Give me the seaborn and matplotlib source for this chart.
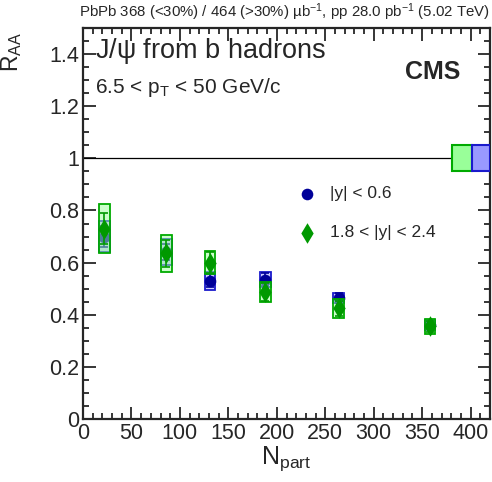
#!/usr/bin/env python3

import matplotlib
matplotlib.use("Agg")
import pandas as pd
import seaborn as sns
from matplotlib import pyplot as plt
from matplotlib.patches import Rectangle
from matplotlib.ticker import MultipleLocator

# values
npart = [22, 86, 131, 188, 264, 358]

raa_mid = [0.70, 0.64, 0.53, 0.535, 0.465, 0.36]
stat_mid = [0.04, 0.03, 0.025, 0.025, 0.02, 0.015]
syst_mid = [0.06, 0.05, 0.035, 0.03, 0.02, 0.02]

raa_fwd = [0.73, 0.635, 0.60, 0.487, 0.424, 0.355]
stat_fwd = [0.06, 0.05, 0.04, 0.035, 0.03, 0.02]
syst_fwd = [0.095, 0.07, 0.045, 0.04, 0.038, 0.03]

glob_fwd = 0.05
glob_mid = 0.05

labels = ["|y| < 0.6", "1.8 < |y| < 2.4"]

BLUE = "#000099"
BLUE_EDGE = "#1a1acc"
BLUE_FILL = "#9999ff"
GREEN = "#009900"
GREEN_EDGE = "#00aa00"
GREEN_FILL = "#99ff99"


def draw_boxes(ax, x, y, syst, edge, fill, width=11, z=2):
    for xi, yi, si in zip(x, y, syst):
        ax.add_patch(Rectangle((xi - width / 2, yi - si), width, 2 * si,
                               facecolor=fill, edgecolor=edge, alpha=0.5, lw=1.2, zorder=z))
        ax.add_patch(Rectangle((xi - width / 2, yi - si), width, 2 * si,
                               facecolor="none", edgecolor=edge, lw=1.2, zorder=z))


def main():
    mid = pd.DataFrame({"npart": npart, "raa": raa_mid})
    fwd = pd.DataFrame({"npart": npart, "raa": raa_fwd})

    sns.set_style("ticks")
    plt.rcParams["font.family"] = ["Liberation Sans", "DejaVu Sans"]
    plt.rcParams["mathtext.fontset"] = "custom"
    plt.rcParams["mathtext.rm"] = "Liberation Sans"
    plt.rcParams["mathtext.it"] = "Liberation Sans"

    fig = plt.figure(figsize=(4.92, 4.82), dpi=100)
    ax = fig.add_axes([83 / 492, 63 / 482, 407 / 492, 391 / 482])

    ax.axhline(1, color="black", lw=0.9, zorder=1)

    # mid rapidity
    draw_boxes(ax, npart, raa_mid, syst_mid, BLUE_EDGE, BLUE_FILL, z=2)
    ax.errorbar(npart, raa_mid, yerr=stat_mid, fmt="none", ecolor=BLUE,
                elinewidth=1.2, capsize=3.2, capthick=1.2, zorder=3)
    sns.scatterplot(mid, x="npart", y="raa", marker="o", s=70, color=BLUE,
                    edgecolor=BLUE, linewidth=0, label=labels[0], zorder=4, ax=ax)

    # forward rapidity
    draw_boxes(ax, npart, raa_fwd, syst_fwd, GREEN_EDGE, GREEN_FILL, z=5)
    ax.errorbar(npart, raa_fwd, yerr=stat_fwd, fmt="none", ecolor=GREEN,
                elinewidth=1.2, capsize=3.2, capthick=1.2, zorder=6)
    sns.scatterplot(fwd, x="npart", y="raa", marker="d", s=110, color=GREEN,
                    edgecolor=GREEN, linewidth=0, label=labels[1], zorder=7, ax=ax)

    # global uncertainties
    ax.add_patch(Rectangle((381, 1 - glob_fwd), 20, 2 * glob_fwd, facecolor=GREEN_FILL,
                           edgecolor=GREEN_EDGE, lw=1.5, zorder=8))
    ax.add_patch(Rectangle((401, 1 - glob_mid), 19, 2 * glob_mid, facecolor=BLUE_FILL,
                           edgecolor=BLUE_EDGE, lw=1.5, zorder=8))

    ax.set_xlim(0, 420)
    ax.set_ylim(0, 1.5)
    ax.xaxis.set_minor_locator(MultipleLocator(10))
    ax.yaxis.set_minor_locator(MultipleLocator(0.05))
    ax.set_xticks(range(0, 401, 50), [str(v) for v in range(0, 401, 50)])
    ax.set_yticks([0, 0.2, 0.4, 0.6, 0.8, 1.0, 1.2, 1.4],
                  ["0", "0.2", "0.4", "0.6", "0.8", "1", "1.2", "1.4"])
    ax.tick_params(which="both", direction="in", top=True, right=True,
                   labelsize=15.5, width=1.3)
    ax.tick_params(which="major", length=9, pad=3)
    ax.tick_params(which="minor", length=4.5)
    for s in ax.spines.values():
        s.set_linewidth(1.6)

    ax.set_xlabel(r"N$_{\mathregular{part}}$", fontsize=18, labelpad=0)
    ax.set_ylabel(r"R$_{\mathregular{AA}}$", fontsize=16.5, loc="top")
    ax.yaxis.set_label_coords(-0.145, 0.99)

    ax.text(0.03, 0.94, r"J/$\psi$ from b hadrons", transform=ax.transAxes,
            fontsize=19.5, va="center", ha="left")
    ax.text(0.03, 0.847, r"6.5 < p$_{\mathregular{T}}$ < 50 GeV/c", transform=ax.transAxes,
            fontsize=15, va="center", ha="left")
    ax.text(0.926, 0.887, "CMS", transform=ax.transAxes, fontsize=18,
            fontweight="bold", va="center", ha="right")
    ax.text(1.0, 1.012, r"PbPb 368 (<30%) / 464 (>30%) µb$^{-1}$, pp 28.0 pb$^{-1}$ (5.02 TeV)",
            transform=ax.transAxes, fontsize=10.8, va="bottom", ha="right")

    sns.move_legend(ax, "upper left", bbox_to_anchor=(0.47, 0.635), frameon=False,
                    title=None, fontsize=12.5, labelspacing=1.35, handletextpad=0.3)

    plt.savefig("out.png", dpi=100)
    plt.close()


if __name__ == '__main__':
    main()
